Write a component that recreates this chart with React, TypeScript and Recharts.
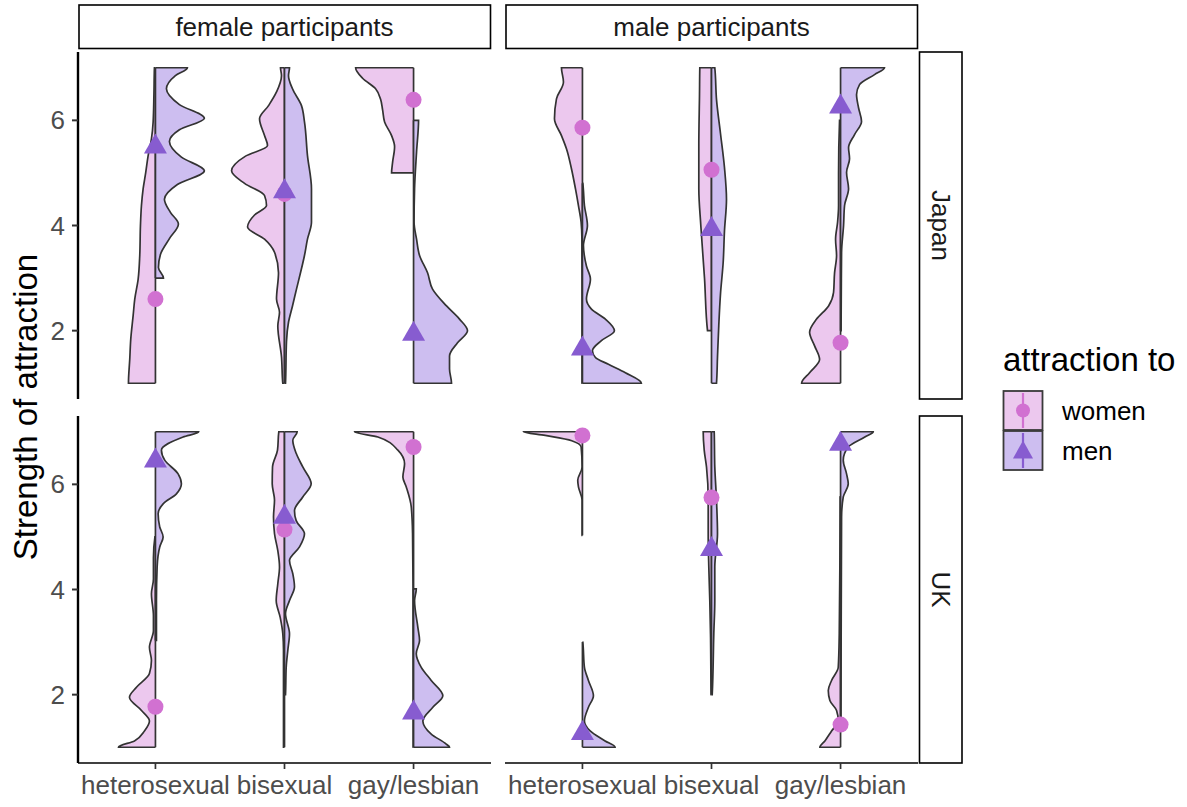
import React from "react";
import { ComposedChart, Area, Scatter, XAxis, YAxis } from "recharts";

const FONT = "'Liberation Sans', Arial, Helvetica, sans-serif";

const GROUPS = ["heterosexual", "bisexual", "gay/lesbian"];
const GROUP_POS = [1, 2, 3];
const Y_TICKS = [2, 4, 6];
const COL_LABELS = ["female participants", "male participants"];
const ROW_LABELS = ["Japan", "UK"];
const Y_TITLE = "Strength of attraction";
const LEGEND_TITLE = "attraction to";
const LEGEND_LABELS = ["women", "men"];

// half-violin outlines: [rating, density]
// female participants, Japan
const F_JP_HET_W = [[1, 27], [1.46, 25.7], [1.84, 24.7], [2.29, 22.3], [2.6, 20.7], [2.98, 17.3], [3.43, 15.7], [4, 15], [4.38, 14], [4.7, 12.3], [5.01, 9.7], [5.33, 7.3], [5.65, 4], [5.97, 2.3], [6.5, 1.5], [7, 1]];
const F_JP_HET_M = [[3, 8], [3.2, 3], [3.45, 5], [3.75, 14], [4.03, 23], [4.25, 15], [4.5, 9], [4.78, 22], [5.04, 49], [5.3, 26], [5.6, 14], [5.82, 24], [6.04, 49], [6.3, 24], [6.6, 11], [6.85, 20], [7, 32]];
const F_JP_BI_W = [[1, 1.7], [1.5, 3], [2.09, 6.7], [2.35, 5], [2.6, 8], [3.1, 6], [3.49, 10], [3.74, 20], [3.97, 37], [4.2, 30], [4.38, 18], [4.57, 20], [4.8, 40], [5.04, 53], [5.32, 39], [5.52, 17], [5.71, 20], [6.03, 25], [6.28, 16], [6.54, 8], [6.85, 3], [7, 4]];
const F_JP_BI_M = [[1, 1], [1.8, 2], [2.16, 4], [2.47, 8], [2.79, 12], [3.1, 16], [3.43, 20], [3.74, 23], [4.06, 27], [4.7, 27], [5.33, 23], [5.97, 20], [6.28, 17], [6.6, 8], [6.85, 4], [7, 5]];
const F_JP_GAY_W = [[5, 22], [5.2, 21], [5.5, 19], [5.71, 22], [5.97, 29], [6.2, 31], [6.4, 33], [6.6, 38], [6.8, 51], [7, 58]];
const F_JP_GAY_M = [[1, 38], [1.27, 36], [1.52, 36], [1.77, 44], [2, 54], [2.22, 46], [2.47, 33], [2.79, 19], [3.1, 14], [3.43, 6], [3.74, 3], [4.06, 0.5], [4.7, 1], [5.4, 3], [6, 5]];

// male participants, Japan
const M_JP_HET_W = [[1, 0.3], [3, 0.3], [3.74, 0.5], [4.06, 1.3], [4.38, 4], [4.7, 7], [5.08, 11], [5.46, 16], [5.71, 21], [6.03, 28], [6.41, 26], [6.73, 19], [7, 21]];
const M_JP_HET_M = [[1, 59], [1.2, 43], [1.36, 26], [1.49, 13], [1.62, 10], [1.81, 19], [2, 32], [2.22, 23], [2.41, 9], [2.6, 4], [2.98, 8], [3.23, 4], [3.62, 1], [4, 5], [4.38, 2], [4.8, 0.3]];
const M_JP_BI_W = [[2, 4], [3, 7], [4, 10.7], [4.7, 12.7], [5.5, 12.7], [6.5, 12], [7, 11.7]];
const M_JP_BI_M = [[1, 5], [1.5, 6], [2.1, 7.3], [2.7, 9], [3.3, 11.7], [3.9, 13], [4.5, 15], [5.1, 13], [5.75, 9], [6.4, 5], [7, 3.3]];
const M_JP_GAY_W = [[1, 39], [1.2, 31], [1.45, 21], [1.71, 26], [1.97, 31], [2.22, 24], [2.47, 12], [2.73, 7], [3.1, 6], [3.43, 4], [3.74, 5], [4.06, 3], [4.38, 2], [5, 2], [6, 1]];
const M_JP_GAY_M = [[2, 0.5], [3.49, 1], [4, 3], [4.38, 4], [4.7, 8], [5.01, 6], [5.27, 9], [5.48, 8], [5.73, 14], [5.98, 21], [6.24, 18], [6.49, 16], [6.68, 19], [6.87, 34], [7, 44]];

// female participants, UK
const F_UK_HET_W = [[1, 37], [1.12, 21], [1.31, 11], [1.5, 6], [1.7, 14], [1.95, 26], [2.14, 19], [2.4, 6], [2.65, 4], [2.9, 6], [3.22, 2], [3.5, 2], [3.92, 4], [4.2, 2], [4.6, 2], [5, 0.5]];
const F_UK_HET_M = [[3.03, 1], [3.79, 1], [4.43, 1.7], [4.81, 4.3], [5, 7.7], [5.19, 4.3], [5.44, 2.7], [5.63, 7.7], [5.82, 21], [6.01, 26], [6.2, 22.7], [6.46, 9.3], [6.65, 6], [6.9, 27.7], [7, 43.3]];
const F_UK_BI_W = [[1, 1], [2.84, 1], [3.16, 1.7], [3.47, 4.3], [3.79, 8.3], [4.11, 6.7], [4.43, 5], [4.74, 6.7], [5.06, 10], [5.38, 11], [5.7, 10], [6.01, 12.3], [6.33, 12], [6.65, 7], [7, 5.7]];
const F_UK_BI_M = [[2, 1], [2.52, 1.7], [2.84, 3.3], [3.16, 5], [3.54, 1], [3.79, 5], [4.05, 10], [4.3, 8.3], [4.55, 5], [4.81, 15], [5.06, 20], [5.31, 11.7], [5.5, 10], [5.76, 18.3], [6.01, 26.7], [6.33, 18.3], [6.59, 11.7], [6.84, 8.3], [7, 12.7]];
const F_UK_GAY_W = [[1, 0.3], [4, 0.5], [5.06, 1], [5.57, 2.3], [5.95, 7.3], [6.14, 10.7], [6.39, 9], [6.65, 15.7], [6.9, 35.7], [7, 59]];
const F_UK_GAY_M = [[1, 36], [1.06, 32.7], [1.25, 17.7], [1.5, 9.3], [1.76, 19.3], [1.98, 29.3], [2.27, 17.7], [2.52, 7.7], [2.78, 2.7], [3.03, 6], [3.28, 4.3], [3.79, 1], [4.01, 2.7]];

// male participants, UK
const M_UK_HET_W = [[5.03, 0.3], [5.7, 0.3], [5.95, 4], [6.08, 4.7], [6.33, 0.3], [6.71, 1.3], [6.83, 10.7], [6.93, 37.3], [7, 59]];
const M_UK_HET_M = [[1, 32.7], [1.12, 22.7], [1.31, 7.7], [1.5, 2], [1.76, 6], [1.98, 11], [2.27, 6], [2.52, 2], [3, 0.3]];
const M_UK_BI_W = [[2, 0.3], [3.16, 1], [3.79, 1.7], [4.43, 2.7], [5.06, 3.3], [5.7, 3.3], [6.33, 5], [6.65, 7.3], [7, 8.3]];
const M_UK_BI_M = [[2, 0.7], [3.16, 2.3], [3.79, 3.3], [4.43, 3.3], [5.06, 6], [5.7, 5], [6.33, 3.3], [7, 2.7]];
const M_UK_GAY_W = [[1, 20.7], [1.12, 15.7], [1.31, 9], [1.5, 2.3], [1.7, 4], [1.89, 10.7], [2.08, 12.3], [2.27, 9], [2.52, 2.3], [3.16, 1.3], [4.43, 0.7], [5.76, 0.3]];
const M_UK_GAY_M = [[1.5, 0.3], [5.38, 1], [5.76, 2.7], [6.01, 7.7], [6.2, 6], [6.46, 2.7], [6.71, 7.7], [6.9, 24.3], [7, 32.7]];

// means per group (heterosexual, bisexual, gay/lesbian)
const F_JP_MEAN_W = [2.6, 4.6, 6.39];
const F_JP_MEAN_M = [5.54, 4.69, 1.98];
const M_JP_MEAN_W = [5.86, 5.06, 1.77];
const M_JP_MEAN_M = [1.7, 3.97, 6.3];
const F_UK_MEAN_W = [1.77, 5.14, 6.71];
const F_UK_MEAN_M = [6.49, 5.42, 1.7];
const M_UK_MEAN_W = [6.93, 5.75, 1.43];
const M_UK_MEAN_M = [1.31, 4.81, 6.81];

const PANELS = [
  { row: 0, col: 0, women: [F_JP_HET_W, F_JP_BI_W, F_JP_GAY_W], men: [F_JP_HET_M, F_JP_BI_M, F_JP_GAY_M], meanW: F_JP_MEAN_W, meanM: F_JP_MEAN_M },
  { row: 0, col: 1, women: [M_JP_HET_W, M_JP_BI_W, M_JP_GAY_W], men: [M_JP_HET_M, M_JP_BI_M, M_JP_GAY_M], meanW: M_JP_MEAN_W, meanM: M_JP_MEAN_M },
  { row: 1, col: 0, women: [F_UK_HET_W, F_UK_BI_W, F_UK_GAY_W], men: [F_UK_HET_M, F_UK_BI_M, F_UK_GAY_M], meanW: F_UK_MEAN_W, meanM: F_UK_MEAN_M },
  { row: 1, col: 1, women: [M_UK_HET_W, M_UK_BI_W, M_UK_GAY_W], men: [M_UK_HET_M, M_UK_BI_M, M_UK_GAY_M], meanW: M_UK_MEAN_W, meanM: M_UK_MEAN_M },
];

// ── styling ──────────────────────────────────────────────────────────────────
const PINK_FILL = "#ECC8EE";
const PURPLE_FILL = "#CDBEF0";
const PINK_PT = "#D171D1";
const PURPLE_PT = "#875CD0";
const OUTLINE = "#333333";
const DENS_SCALE = 1 / 129.2; // density units -> category units
const X_DOMAIN = [0.4, 3.6];
const Y_DOMAIN = [0.7, 7.3];
const AXIS_W = 1.7;
const Y_AXIS_LINE_W = 2.4;

const PLOT_W = 413;
const PLOT_H = 347;
const COL_X = [78, 505];
const ROW_Y = [52, 416];
const Y_AXIS_W = 70;
const X_AXIS_H = 45;

function halfViolin(pts: number[][], center: number, side: number) {
  const rows = [[pts[0][0], 0], ...pts, [pts[pts.length - 1][0], 0]];
  return rows.map(([v, d]) => ({
    v,
    x: side < 0 ? [center - d * DENS_SCALE, center] : [center, center + d * DENS_SCALE],
  }));
}

const Circle = (props: any) => (
  <circle cx={props.cx} cy={props.cy} r={8} fill={PINK_PT} />
);
const Triangle = (props: any) => {
  const { cx, cy } = props;
  return (
    <polygon
      points={`${cx},${cy - 11} ${cx - 11.5},${cy + 9} ${cx + 11.5},${cy + 9}`}
      fill={PURPLE_PT}
    />
  );
};

// y tick mark: short line plus label, placed by the axis
const YTick = (props: any) => {
  const { x, y, payload } = props;
  return (
    <g>
      <line x1={x + 7} x2={x + 13} y1={y} y2={y} stroke="#333" strokeWidth={2} />
      <text
        x={x}
        y={y}
        textAnchor="end"
        dominantBaseline="central"
        fontSize={26}
        fill="#4D4D4D"
        fontFamily={FONT}
      >
        {payload.value}
      </text>
    </g>
  );
};

function Panel({ p }: { p: (typeof PANELS)[number] }) {
  const showY = p.col === 0;
  const showX = p.row === 1;
  const width = PLOT_W + (showY ? Y_AXIS_W : 0);
  const height = PLOT_H + (showX ? X_AXIS_H : 0);
  const left = COL_X[p.col] - (showY ? Y_AXIS_W : 0);
  const top = ROW_Y[p.row];
  const tickStyle = { fontSize: 26, fill: "#4D4D4D", fontFamily: FONT };
  return (
    <div style={{ position: "absolute", left, top, width, height }}>
      <ComposedChart
        layout="vertical"
        width={width}
        height={height}
        margin={{ top: 0, right: 0, bottom: 0, left: 0 }}
      >
        <XAxis
          type="number"
          dataKey="x"
          domain={X_DOMAIN}
          allowDataOverflow
          ticks={GROUP_POS}
          interval={0}
          tickFormatter={(v: number) => GROUPS[Math.round(v) - 1]}
          hide={!showX}
          height={X_AXIS_H}
          tick={tickStyle}
          tickSize={6}
          tickMargin={7}
          axisLine={{ stroke: "#000", strokeWidth: AXIS_W }}
          tickLine={{ stroke: "#333", strokeWidth: AXIS_W }}
        />
        <YAxis
          type="number"
          dataKey="v"
          domain={Y_DOMAIN}
          reversed
          allowDataOverflow
          ticks={Y_TICKS}
          interval={0}
          hide={!showY}
          width={Y_AXIS_W}
          tick={<YTick />}
          tickSize={6}
          tickMargin={7}
          axisLine={{ stroke: "#000", strokeWidth: Y_AXIS_LINE_W }}
          tickLine={false}
        />
        {p.women.map((pts, i) => (
          <Area
            key={`w${i}`}
            data={halfViolin(pts, GROUP_POS[i], -1)}
            dataKey="x"
            type="monotone"
            stroke={OUTLINE}
            strokeWidth={1.7}
            fill={PINK_FILL}
            fillOpacity={1}
            dot={false}
            activeDot={false}
            isAnimationActive={false}
          />
        ))}
        {p.men.map((pts, i) => (
          <Area
            key={`m${i}`}
            data={halfViolin(pts, GROUP_POS[i], 1)}
            dataKey="x"
            type="monotone"
            stroke={OUTLINE}
            strokeWidth={1.7}
            fill={PURPLE_FILL}
            fillOpacity={1}
            dot={false}
            activeDot={false}
            isAnimationActive={false}
          />
        ))}
        <Scatter
          data={p.meanW.map((v, i) => ({ x: GROUP_POS[i], v }))}
          shape={Circle}
          isAnimationActive={false}
        />
        <Scatter
          data={p.meanM.map((v, i) => ({ x: GROUP_POS[i], v }))}
          shape={Triangle}
          isAnimationActive={false}
        />
      </ComposedChart>
    </div>
  );
}

export default function App() {
  const stripTop = 5;
  const stripH = 43.5;
  const stripRightX = 919.5;
  const stripW = 42.5;
  return (
    <div
      style={{
        position: "absolute",
        left: 0,
        top: 0,
        width: 1187,
        height: 807,
        background: "#fff",
        fontFamily: FONT,
      }}
    >
      {PANELS.map((p) => (
        <Panel key={`${p.row}-${p.col}`} p={p} />
      ))}
      <svg
        width={1187}
        height={807}
        style={{ position: "absolute", left: 0, top: 0, pointerEvents: "none" }}
        fontFamily={FONT}
      >
        {/* column strips */}
        {COL_LABELS.map((label, c) => (
          <g key={label}>
            <rect
              x={COL_X[c] + 1}
              y={stripTop}
              width={PLOT_W - 1.5}
              height={stripH}
              fill="#fff"
              stroke="#000"
              strokeWidth={1.6}
            />
            <text
              x={COL_X[c] + PLOT_W / 2}
              y={stripTop + stripH / 2}
              textAnchor="middle"
              dominantBaseline="central"
              fontSize={26}
              fill="#1A1A1A"
            >
              {label}
            </text>
          </g>
        ))}
        {/* row strips */}
        {ROW_LABELS.map((label, r) => (
          <g key={label}>
            <rect
              x={stripRightX}
              y={ROW_Y[r]}
              width={stripW}
              height={PLOT_H}
              fill="#fff"
              stroke="#000"
              strokeWidth={1.6}
            />
            <text
              x={stripRightX + stripW / 2}
              y={ROW_Y[r] + PLOT_H / 2}
              textAnchor="middle"
              dominantBaseline="central"
              fontSize={26}
              fill="#1A1A1A"
              transform={`rotate(90 ${stripRightX + stripW / 2} ${ROW_Y[r] + PLOT_H / 2})`}
            >
              {label}
            </text>
          </g>
        ))}
        {/* y title */}
        <text
          x={25}
          y={407}
          textAnchor="middle"
          dominantBaseline="central"
          fontSize={33}
          fill="#000"
          transform="rotate(-90 25 407)"
        >
          {Y_TITLE}
        </text>
        {/* legend */}
        <text x={1003} y={371} fontSize={33} fill="#000">
          {LEGEND_TITLE}
        </text>
        {LEGEND_LABELS.map((label, i) => {
          const y0 = 391 + i * 40;
          const cx = 1023;
          const cy = y0 + 19.5;
          return (
            <g key={label}>
              <rect
                x={1003.5}
                y={y0}
                width={39}
                height={39}
                fill={i === 0 ? PINK_FILL : PURPLE_FILL}
                stroke="#3a3a3a"
                strokeWidth={1.8}
              />
              <line
                x1={cx}
                x2={cx}
                y1={y0 + 2}
                y2={y0 + 37}
                stroke={i === 0 ? PINK_PT : PURPLE_PT}
                strokeWidth={2.2}
              />
              {i === 0 ? (
                <circle cx={cx} cy={cy} r={7} fill={PINK_PT} />
              ) : (
                <polygon
                  points={`${cx},${cy - 10} ${cx - 10},${cy + 8} ${cx + 10},${cy + 8}`}
                  fill={PURPLE_PT}
                />
              )}
              <text
                x={1062}
                y={cy}
                dominantBaseline="central"
                fontSize={26}
                fill="#000"
              >
                {label}
              </text>
            </g>
          );
        })}
      </svg>
    </div>
  );
}
